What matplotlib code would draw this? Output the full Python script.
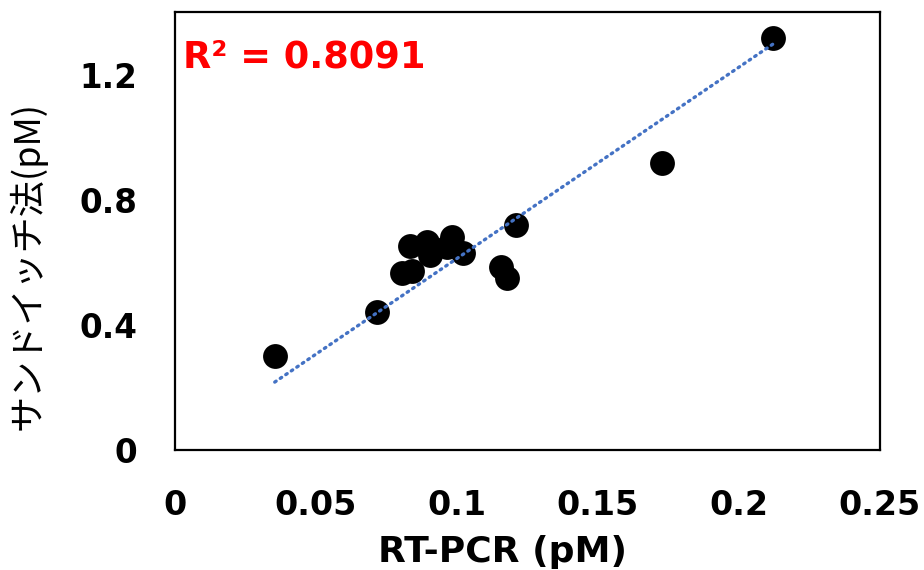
import matplotlib
matplotlib.use('Agg')
import matplotlib.pyplot as plt
import numpy as np

# RT-PCR (pM) vs sandwich method (pM)
rt_pcr = [0.0355, 0.0716, 0.0805, 0.0840, 0.0833, 0.0894, 0.0904, 0.0965,
          0.0982, 0.1021, 0.1209, 0.1156, 0.1177, 0.1727, 0.2121]
sandwich = [0.300, 0.441, 0.566, 0.572, 0.652, 0.665, 0.623, 0.649,
            0.681, 0.630, 0.719, 0.585, 0.550, 0.917, 1.317]
x_ticks = [0, 0.05, 0.1, 0.15, 0.2, 0.25]
x_tick_labels = ['0', '0.05', '0.1', '0.15', '0.2', '0.25']
y_ticks = [0, 0.4, 0.8, 1.2]
y_tick_labels = ['0', '0.4', '0.8', '1.2']
r2_text = 'R² = 0.8091'

fig = plt.figure(figsize=(9.24, 5.7), dpi=100)
ax = fig.add_axes([0.189, 0.2105, 0.763, 0.768])

x = np.array(rt_pcr)
y = np.array(sandwich)
ax.scatter(x, y, s=320, color='black', zorder=2, linewidths=0)

# linear trendline forced through the origin
slope = np.sum(x * y) / np.sum(x * x)
xl = np.array([x.min(), x.max()])
ax.plot(xl, slope * xl, color='#4472C4', linewidth=2.4,
        linestyle=(0, (0.5, 1.5)), dash_capstyle='round', zorder=3)

ax.set_xlim(0, 0.25)
ax.set_ylim(0, 1.4)
ax.set_xticks(x_ticks)
ax.set_xticklabels(x_tick_labels, fontsize=24, fontweight='bold', family='DejaVu Sans')
ax.set_yticks(y_ticks)
ax.set_yticklabels(y_tick_labels, fontsize=23.5, fontweight='bold', family='DejaVu Sans')
ax.tick_params(length=0)
ax.tick_params(axis='x', pad=28)
ax.tick_params(axis='y', pad=27)

for sp in ax.spines.values():
    sp.set_linewidth(1.6)

ax.set_xlabel('RT-PCR (pM)', fontsize=26, fontweight='bold')
ax.xaxis.set_label_coords(0.465, -0.195)
ax.xaxis.label.set_va('top')
ax.set_ylabel('サンドイッチ法(pM)', fontsize=26,
              family=['Noto Sans CJK JP', 'DejaVu Sans'])
ax.yaxis.set_label_coords(-0.2085, 0.422)
ax.yaxis.label.set_va('center')

ax.text(0.012, 0.874, r2_text, transform=ax.transAxes, color='#FF0000',
        fontsize=26.5, fontweight='bold', va='baseline', ha='left')

fig.savefig('out.png', dpi=100)
